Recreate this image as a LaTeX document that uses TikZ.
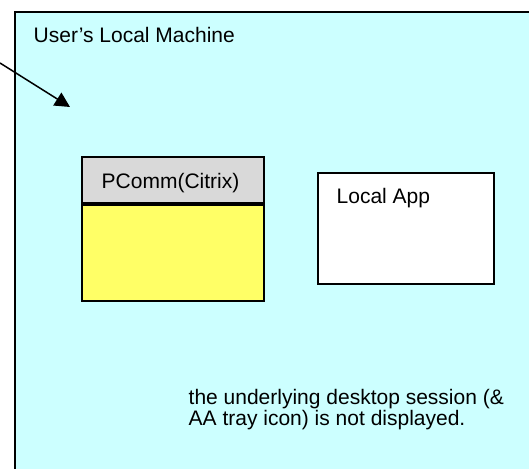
\documentclass[tikz,border=0pt]{standalone}
\usepackage{fontspec}
\setmainfont{Liberation Sans}
\usetikzlibrary{arrows.meta}

\definecolor{machinebg}{RGB}{204,255,255}
\definecolor{titlegrey}{RGB}{217,217,217}
\definecolor{sessionyellow}{RGB}{255,255,102}

\tikzset{
  box/.style={draw=black, line width=2pt, inner sep=0pt, anchor=north west},
  lbl/.style={inner sep=0pt, font=\fontsize{21}{19.5}\selectfont},
  pointer/.style={line width=1.5pt, -{Triangle[length=15pt,width=15pt]}}
}

\begin{document}
\begin{tikzpicture}[x=1pt, y=-1pt]
  \useasboundingbox (0,0) rectangle (529,468);

  % the local machine area, cut off by the right and bottom edges
  \begin{scope}
    \clip (0,0) rectangle (529,468);
    \draw[line width=2pt, fill=machinebg] (15,12) rectangle (560,500);
  \end{scope}
  \node[lbl, anchor=base west] (machine) at (33.5,42.5) {User’s Local Machine};

  % PComm window: title bar and yellow body
  \node[box, fill=titlegrey, minimum width=182pt, minimum height=46.5pt] (pctitle) at (80.7,155.7) {};
  \node[box, fill=sessionyellow, minimum width=182pt, minimum height=95.7pt] (pcbody) at (pctitle.south west) {};
  \node[lbl, anchor=base] (pclabel) at (170.5,188.5) {PComm(Citrix)};

  % local application window
  \node[box, fill=white, minimum width=176.3pt, minimum height=111pt] (localapp) at (316.7,171.7) {};
  \node[lbl, anchor=base west] (locallabel) at (336.5,203.5) {Local App};

  % note
  \node[lbl, anchor=base west, align=left] (note) at (188.5,425)
    {the underlying desktop session (\&\\AA tray icon) is not displayed.};

  % pointer from the left margin
  \coordinate (ptrfrom) at (0,63);
  \coordinate (ptrto) at (70,107);
  \draw[pointer] (ptrfrom) -- (ptrto);
\end{tikzpicture}
\end{document}
